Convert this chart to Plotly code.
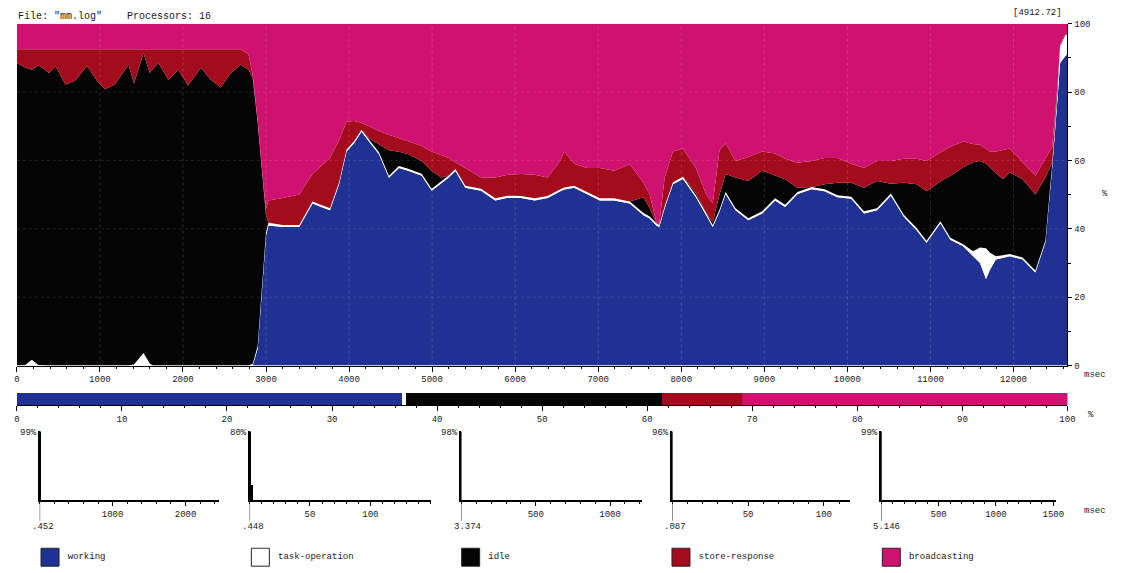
import plotly.graph_objects as go

W, H = 1121, 573
def px(x):
    return x / W
def py(y):
    return 1 - y / H

FONT = "Liberation Mono, DejaVu Sans Mono, monospace"
TXT = "#1a1a1a"

C_WORK = "#1f3192"
C_TASK = "#ffffff"
C_IDLE = "#050505"
C_STORE = "#a30c1c"
C_BCAST = "#cf1170"

# ---------------- main stacked chart (cumulative tops, % of processors) -------------
t = [0, 100, 180, 260, 390, 465, 585, 700, 845, 965,
     1060, 1180, 1345, 1410, 1525, 1600, 1640, 1705, 1825, 1945,
     2060, 2215, 2335, 2455, 2575, 2695, 2790, 2840, 2900, 2930,
     2970, 3000, 3030,
     3200, 3400, 3560, 3650, 3770, 3880, 3970, 4060, 4150, 4240,
     4360, 4480, 4600, 4720, 4875, 4995, 5110, 5200, 5280, 5400,
     5590, 5760, 5910, 6070, 6235, 6390, 6545, 6590, 6710, 6865,
     7020, 7190, 7380, 7545, 7620, 7700, 7735, 7800, 7900, 8020,
     8176, 8300, 8379, 8460, 8534, 8653, 8808, 8975, 9130, 9250,
     9400, 9570, 9726, 9880, 10047, 10200, 10357, 10524, 10680, 10834,
     10953, 11120, 11240, 11394, 11514, 11597, 11669, 11717, 11788, 11871,
     11955, 12110, 12264, 12384, 12467, 12527, 12562, 12622, 12646]

working = [0] * 28 + [5, 15, 30, 38, 41] + [
    40.5, 40.5, 47.4, 46.5, 45.4, 53, 62.6, 65, 68.4, 65.5,
    61.8, 54.9, 57.8, 56.9, 55.5, 51.1, 53.4, 55, 56.9, 52,
    51.1, 48.3, 49.1, 49, 48.3, 49, 51, 51.5, 52, 50.2,
    48.3, 48.3, 47.4, 44, 43, 41, 40.5, 46, 53, 54.6,
    49.2, 44, 40.5, 45, 50.2, 45.4, 42.5, 44.5, 48.3, 46.4,
    50.2, 51.6, 51, 49.2, 48.8, 44.5, 45.4, 49.7, 43.5, 39.6,
    35.9, 41.6, 36.8, 34.9, 31.9, 30, 25.3, 28, 31, 31.5,
    32, 31, 27.2, 36, 58, 77, 88.5, 90.5, 91]

task_top = [0, 0.2, 1.7, 0.2, 0, 0, 0, 0, 0, 0,
            0, 0, 0, 0.3, 3.7, 0.6, 0, 0, 0, 0,
            0, 0, 0, 0, 0, 0, 0, 0.5, 5.8, 16,
            31, 39, 41.8,
            41.1, 41.1, 48.0, 47.1, 46.0, 53.6, 63.2, 65.6, 69.0, 66.1,
            62.4, 55.5, 58.4, 57.5, 56.1, 51.7, 54.0, 55.6, 57.5, 52.6,
            51.7, 48.9, 49.7, 49.6, 48.9, 49.6, 51.6, 52.1, 52.6, 50.8,
            48.9, 48.9, 48.0, 44.6, 43.6, 41.6, 41.1, 46.6, 53.6, 55.2,
            49.8, 44.6, 41.1, 45.6, 50.8, 46.0, 43.1, 45.1, 48.9, 47.0,
            50.8, 52.2, 51.6, 49.8, 49.4, 45.1, 46.0, 50.3, 44.1, 40.2,
            36.5, 42.2, 37.4, 35.5, 33.4, 34.5, 34.3, 33.0, 32.0, 32.3,
            32.6, 31.6, 27.8, 36.6, 59.0, 79.0, 93.5, 96.5, 97.0]

idle_top = [88.5, 87.2, 86.5, 87.8, 85.6, 87.6, 82.2, 83.3, 87.6, 83.3,
            80.8, 82.2, 88, 82.5, 91.4, 85.6, 86.8, 88.5, 83.6, 86.5,
            81.9, 87.1, 83.6, 81.3, 85.6, 88, 86.5, 84, 71, 62,
            52, 44, 41.8,
            41.1, 41.1, 48.0, 47.1, 46.0, 53.6, 63.2, 65.6, 69.0, 66.5,
            64.8, 63.0, 62.5, 61.8, 59.8, 57.0, 55.0, 55.6, 57.5, 52.6,
            51.7, 48.9, 49.7, 49.6, 48.9, 49.6, 51.6, 52.1, 52.6, 50.8,
            48.9, 48.9, 48.0, 49.2, 46.0, 41.6, 41.1, 46.6, 53.6, 55.2,
            50.5, 44.6, 42.0, 50.0, 56.0, 55.0, 54.0, 57.0, 55.5, 54.5,
            52.0, 52.2, 53.0, 53.5, 53.5, 52.0, 54.0, 53.2, 53.5, 53.0,
            51.0, 53.8, 55.5, 58.0, 59.5, 59.8, 59.0, 58.0, 56.5, 54.5,
            56.5, 54.5, 50.0, 55.0, 59.5, 80.0, 93.5, 96.5, 97.0]

store_top = [92.5] * 26 + [91, 85, 71.5, 62.5, 52.5, 46, 48.3] + [
    49, 50, 56, 58, 60.7, 66, 71.3, 71.5, 71, 70,
    68.6, 67.5, 66.4, 65.5, 64.2, 62.6, 61.5, 60.7, 59.5, 57.8,
    55, 55, 55.8, 56, 55.8, 55, 60, 62.6, 59, 57.8,
    57.8, 57, 58.9, 53.5, 50, 42, 41.5, 55, 62.6, 63.5,
    57.8, 50, 47.4, 63, 65, 59.8, 61, 62.6, 62, 60.5,
    59.3, 59.8, 60.7, 60.7, 59, 57.8, 59.8, 59.8, 60.5, 60.5,
    59.8, 62.3, 64, 65.5, 64.8, 64.6, 63.5, 62.6, 62.6, 63,
    63.5, 59.5, 55.5, 60.5, 64, 81, 94, 97, 97.5]

broadcast_top = [100] * len(t)

time_ticks = list(range(0, 13000, 1000))
time_tick_text = [str(v) for v in time_ticks]

# ---------------- overall utilization bar (%) ----------------
util_labels = ["working", "task-operation", "idle", "store-response", "broadcasting"]
util_values = [36.6, 0.4, 24.4, 7.6, 31.0]
util_colors = [C_WORK, C_TASK, C_IDLE, C_STORE, C_BCAST]

# ---------------- duration histograms ----------------
hist_bins = [[0], [0.3, 1.5], [0], [0], [0]]
hist_pct = [[99], [80, 17], [98], [96], [99]]
hist_width = [[20], [1.2, 1.2], [10], [1.0], [13]]
hist_top_label = ["99%", "80%", "98%", "96%", "99%"]
hist_min_label = [".452", ".448", "3.374", ".087", "5.146"]
hist_xmax = [2456, 150, 1213, 117, 1520]
hist_ticks = [[1000, 2000], [50, 100], [500, 1000], [50, 100], [500, 1000, 1500]]
hist_minor = [200, 10, 100, 10, 100]
hist_x0_px = [37, 249, 463, 676, 887]
hist_x1_px = [218, 432, 645, 855, 1063]

fig = go.Figure()

layers = [(working, C_WORK, "tozeroy"), (task_top, C_TASK, "tonexty"),
          (idle_top, C_IDLE, "tonexty"), (store_top, C_STORE, "tonexty"),
          (broadcast_top, C_BCAST, "tonexty")]
for ys, col, fl in layers:
    fig.add_trace(go.Scatter(x=t, y=ys, mode="lines", line=dict(width=0, color=col),
                             fill=fl, fillcolor=col, xaxis="x", yaxis="y",
                             showlegend=False, hoverinfo="skip"))

for lab, v, c in zip(util_labels, util_values, util_colors):
    fig.add_trace(go.Bar(x=[v], y=[0], orientation="h", width=1, marker_color=c,
                         marker_line_width=0, xaxis="x2", yaxis="y2",
                         showlegend=False, hoverinfo="skip", name=lab))

for i in range(5):
    n = i + 3
    fig.add_trace(go.Bar(x=hist_bins[i], y=hist_pct[i], width=hist_width[i],
                         marker_color="black", marker_line_width=0,
                         xaxis=f"x{n}", yaxis=f"y{n}", showlegend=False,
                         hoverinfo="skip", cliponaxis=False))

# legend as marker row
fig.add_trace(go.Scatter(x=list(range(5)), y=[0] * 5, mode="markers+text",
                         marker=dict(symbol="square", size=18, color=util_colors,
                                     line=dict(color="#222", width=1)),
                         text=[" " + s for s in util_labels], textposition="middle right",
                         textfont=dict(family=FONT, size=9, color=TXT),
                         xaxis="x8", yaxis="y8", showlegend=False, hoverinfo="skip"))

tickfont = dict(family=FONT, size=9, color=TXT)

layout = dict(
    width=W, height=H, margin=dict(l=0, r=0, t=0, b=0),
    paper_bgcolor="white", plot_bgcolor="white", barmode="stack", bargap=0,
    font=dict(family=FONT, size=9, color=TXT),
    xaxis=dict(domain=[px(14), px(1075)], range=[0, 12650], showline=True,
               linecolor="black", linewidth=1, ticks="outside", ticklen=5,
               tickcolor="black", tickvals=time_ticks, ticktext=time_tick_text,
               minor=dict(dtick=200, ticklen=2.5, ticks="outside", tickcolor="black"),
               showgrid=False, zeroline=False, tickfont=tickfont, anchor="y"),
    yaxis=dict(domain=[py(368), py(20)], range=[0, 100], side="right", anchor="x",
               showline=True, linecolor="black", linewidth=1, ticks="outside",
               ticklen=4, tickcolor="black", dtick=20,
               minor=dict(dtick=10, ticklen=3, ticks="outside", tickcolor="black"),
               showgrid=False, zeroline=False, tickfont=tickfont),
    xaxis2=dict(domain=[px(14), px(1075)], range=[0, 100], anchor="y2", showline=True,
                linecolor="black", linewidth=1, ticks="outside", ticklen=5,
                tickcolor="black", tickvals=list(range(0, 101, 10)),
                minor=dict(dtick=2, ticklen=2.5, ticks="outside", tickcolor="black"),
                showgrid=False, zeroline=False, tickfont=tickfont),
    yaxis2=dict(domain=[py(408), py(396)], range=[-0.5, 0.5], anchor="x2", visible=False),
    xaxis8=dict(domain=[0, 1], range=[(0 - 47.5) / 212.4, (W - 47.5) / 212.4],
                anchor="y8", visible=False),
    yaxis8=dict(domain=[py(573), py(553)], range=[-1, 1], anchor="x8", visible=False),
)

for i in range(5):
    n = i + 3
    layout[f"xaxis{n}"] = dict(domain=[px(hist_x0_px[i]), px(hist_x1_px[i])],
                               range=[0, hist_xmax[i]], anchor=f"y{n}", showline=True,
                               linecolor="black", linewidth=1.5, ticks="outside",
                               ticklen=4, tickcolor="black", tickvals=hist_ticks[i],
                               minor=dict(dtick=hist_minor[i], ticklen=2.5,
                                          ticks="outside", tickcolor="black"),
                               showgrid=False, zeroline=False, tickfont=tickfont)
    layout[f"yaxis{n}"] = dict(domain=[py(505), py(435)], range=[0, hist_pct[i][0]],
                               anchor=f"x{n}", showline=True, linecolor="black",
                               linewidth=2, showticklabels=False, ticks="",
                               showgrid=False, zeroline=False)

fig.update_layout(**layout)

shapes = []
# faint dotted grid over the areas
for gx in time_ticks[1:]:
    shapes.append(dict(type="line", xref="x", yref="y domain", x0=gx, x1=gx, y0=0, y1=1,
                       line=dict(color="rgba(255,255,255,0.16)", width=1, dash="dot"),
                       layer="above"))
for gy in range(20, 100, 20):
    shapes.append(dict(type="line", xref="x domain", yref="y", x0=0, x1=1, y0=gy, y1=gy,
                       line=dict(color="rgba(255,255,255,0.12)", width=1, dash="dot"),
                       layer="above"))
# y-axis extensions below histogram origins
for i in range(5):
    n = i + 3
    shapes.append(dict(type="line", xref=f"x{n}", yref="paper", x0=0, x1=0,
                       y0=py(505), y1=py(526), line=dict(color="#333", width=1)))
fig.update_layout(shapes=shapes)

ann = [
    dict(x=px(13), y=py(13), text='File: "mm.log"', xanchor="left", yanchor="middle",
         font=dict(family=FONT, size=10, color=TXT)),
    dict(x=px(123), y=py(13), text="Processors: 16", xanchor="left", yanchor="middle",
         font=dict(family=FONT, size=10, color=TXT)),
    dict(x=px(1072), y=py(9), text="[4912.72]", xanchor="right", yanchor="middle",
         font=dict(family=FONT, size=9, color=TXT)),
    dict(x=px(1108), y=py(193), text="%", xanchor="left", yanchor="middle"),
    dict(x=px(1090), y=py(378), text="msec", xanchor="left", yanchor="middle"),
    dict(x=px(1094), y=py(418), text="%", xanchor="left", yanchor="middle"),
    dict(x=px(1090), y=py(516), text="msec", xanchor="left", yanchor="middle"),
]
for i in range(5):
    ann.append(dict(x=px(hist_x0_px[i] - 1), y=py(437), text=hist_top_label[i],
                    xanchor="right", yanchor="middle"))
    ann.append(dict(x=px(hist_x0_px[i] - 10), y=py(532), text=hist_min_label[i],
                    xanchor="left", yanchor="middle"))
for a in ann:
    a.setdefault("xref", "paper")
    a.setdefault("yref", "paper")
    a.setdefault("showarrow", False)
    a.setdefault("font", dict(family=FONT, size=9, color=TXT))
fig.update_layout(annotations=ann)

fig.write_html("out.html", config={"displayModeBar": False})
